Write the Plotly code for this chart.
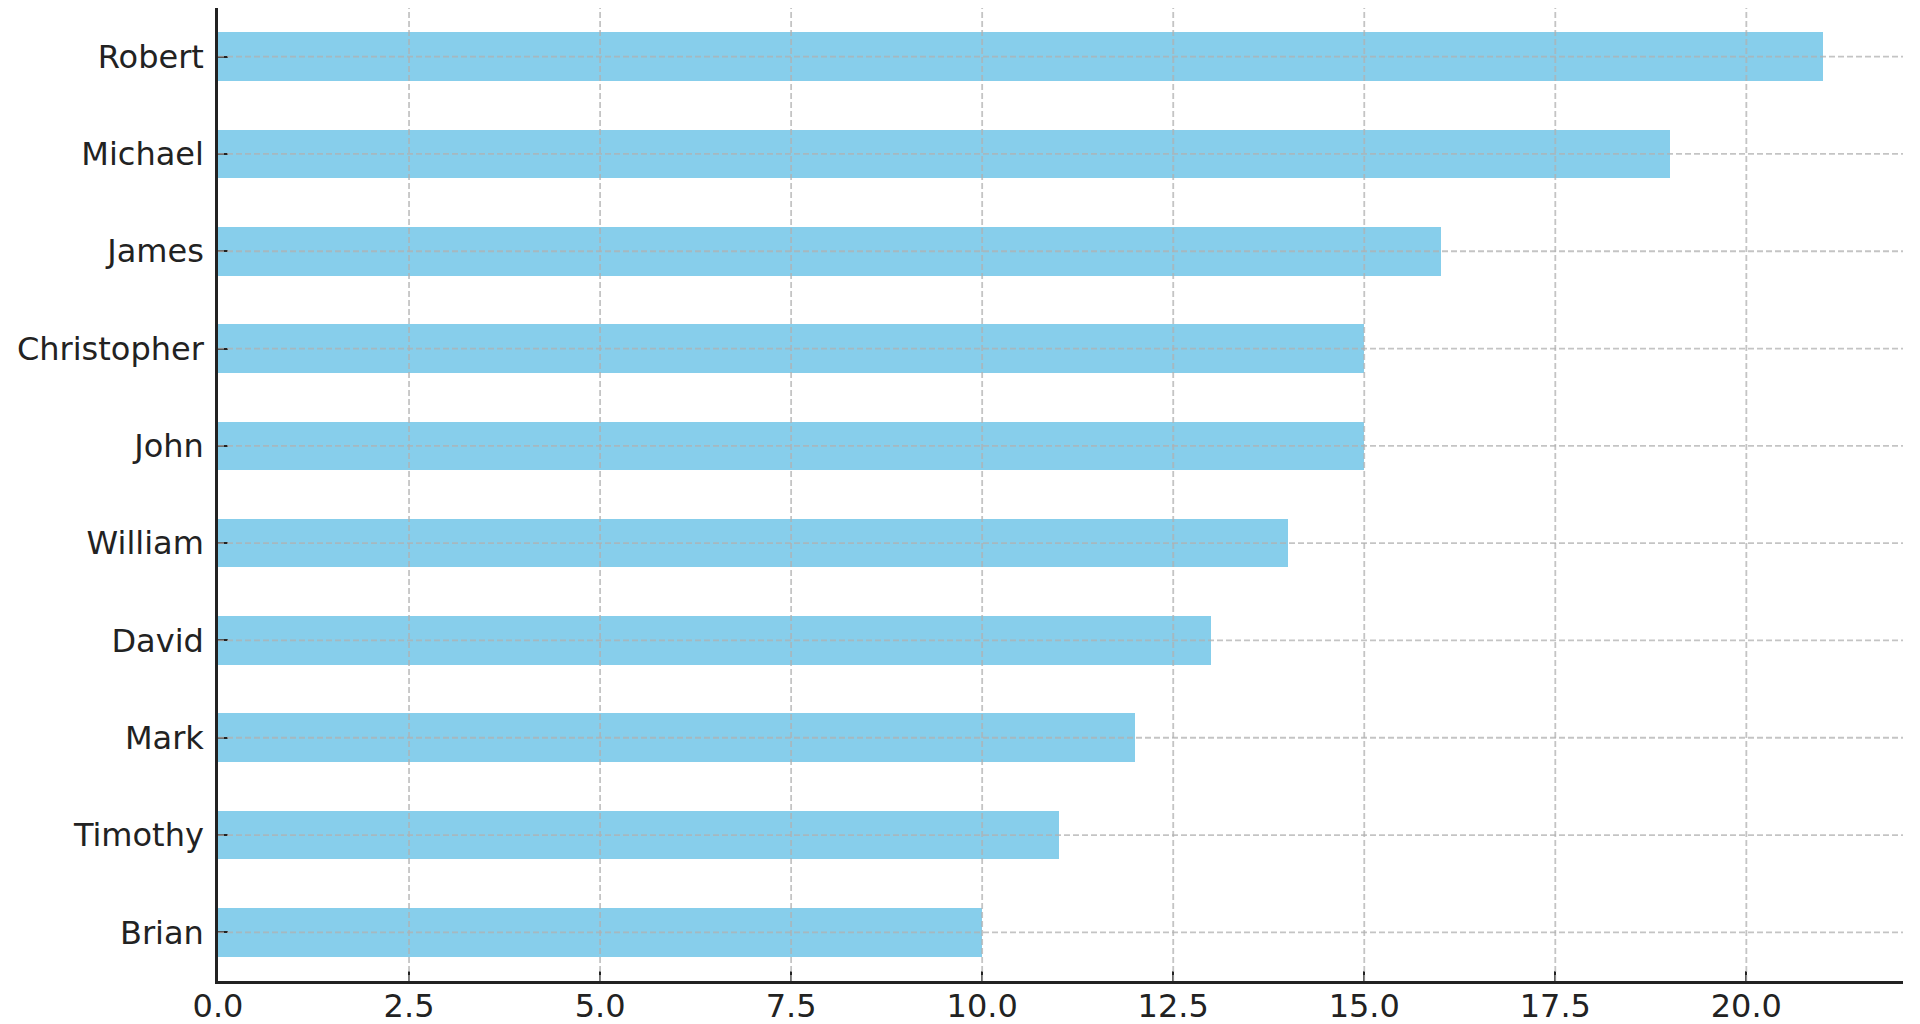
import plotly.graph_objects as go

names = ["Robert", "Michael", "James", "Christopher", "John",
         "William", "David", "Mark", "Timothy", "Brian"]
counts = [21, 19, 16, 15, 15, 14, 13, 12, 11, 10]
x_ticks = [0.0, 2.5, 5.0, 7.5, 10.0, 12.5, 15.0, 17.5, 20.0]
x_tick_labels = ["0.0", "2.5", "5.0", "7.5", "10.0", "12.5", "15.0", "17.5", "20.0"]

BAR = "#87CEEB"
INK = "#222222"
GRID = "rgba(176,176,176,0.75)"
FONT = "DejaVu Sans"

fig = go.Figure()
fig.add_trace(go.Bar(
    x=counts, y=names, orientation="h", width=0.5,
    marker=dict(color=BAR, line=dict(width=0)),
))

shapes = []
for t in x_ticks[1:]:
    shapes.append(dict(type="line", xref="x", yref="paper", x0=t, x1=t, y0=0, y1=1,
                       line=dict(color=GRID, width=1.8, dash="6px,3px"), layer="above"))
for n in names:
    shapes.append(dict(type="line", xref="paper", yref="y", x0=0, x1=1, y0=n, y1=n,
                       line=dict(color=GRID, width=1.8, dash="6px,3px"), layer="above"))

fig.update_layout(
    width=1920, height=1024,
    margin=dict(l=218, r=17, t=8, b=43),
    paper_bgcolor="white", plot_bgcolor="white",
    showlegend=False,
    font=dict(family=FONT, size=32, color=INK),
    shapes=shapes,
    bargap=0,
)
fig.update_xaxes(
    range=[0, 22.05], tickmode="array", tickvals=x_ticks, ticktext=x_tick_labels,
    showgrid=False, zeroline=False, automargin=False,
    showline=True, linecolor=INK, linewidth=2.5,
    ticks="inside", ticklen=10, tickwidth=2, tickcolor=INK,
    tickfont=dict(family=FONT, size=32, color=INK),
    ticklabelstandoff=-5,
    layer="above traces",
)
fig.update_yaxes(
    type="category", categoryorder="array", categoryarray=names,
    range=[9.5, -0.5],
    showgrid=False, zeroline=False, automargin=False,
    showline=True, linecolor=INK, linewidth=2.5,
    ticks="inside", ticklen=10, tickwidth=2, tickcolor=INK,
    tickfont=dict(family=FONT, size=32, color=INK),
    ticklabelstandoff=5,
    layer="above traces",
)

fig.write_html("out.html", config={"displayModeBar": False},
               post_script="document.body.style.margin='0';")
